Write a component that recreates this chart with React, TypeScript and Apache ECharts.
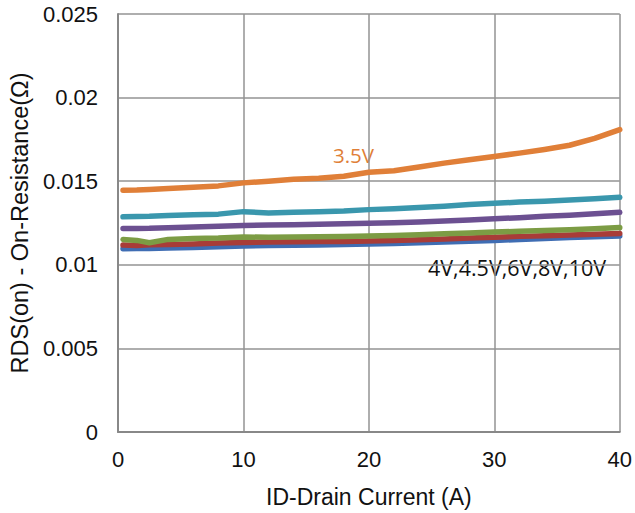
import React, { useEffect, useRef } from "react";
import * as echarts from "echarts";

const X = [0.4, 1.5, 2.5, 4, 6, 8, 10, 12, 14, 16, 18, 20, 22, 24, 26, 28, 30, 32, 34, 36, 38, 40];

const V35 = [0.01446, 0.01447, 0.01450, 0.01456, 0.01464, 0.01472, 0.01490, 0.01500, 0.01512, 0.01518, 0.01530, 0.01553, 0.01562, 0.01585, 0.01608, 0.01628, 0.01648, 0.01668, 0.01690, 0.01715, 0.01756, 0.01808];
const V4 = [0.01287, 0.01289, 0.01290, 0.01295, 0.01300, 0.01303, 0.01318, 0.01310, 0.01315, 0.01318, 0.01322, 0.01330, 0.01335, 0.01342, 0.01350, 0.01360, 0.01368, 0.01375, 0.01380, 0.01388, 0.01395, 0.01404];
const V45 = [0.01217, 0.01217, 0.01218, 0.01222, 0.01226, 0.01230, 0.01235, 0.01238, 0.01240, 0.01243, 0.01245, 0.01248, 0.01252, 0.01256, 0.01262, 0.01268, 0.01275, 0.01282, 0.01290, 0.01297, 0.01305, 0.01314];
const V6 = [0.01152, 0.01146, 0.01132, 0.01152, 0.01158, 0.01160, 0.01166, 0.01165, 0.01167, 0.01168, 0.01170, 0.01172, 0.01175, 0.01180, 0.01185, 0.01190, 0.01196, 0.01200, 0.01205, 0.01210, 0.01216, 0.01223];
const V8 = [0.01118, 0.01115, 0.01120, 0.01122, 0.01125, 0.01130, 0.01134, 0.01136, 0.01138, 0.01139, 0.01140, 0.01142, 0.01146, 0.01150, 0.01155, 0.01160, 0.01165, 0.01170, 0.01174, 0.01178, 0.01182, 0.01187];
const V10 = [0.01096, 0.01098, 0.01097, 0.01100, 0.01104, 0.01108, 0.01113, 0.01115, 0.01117, 0.01119, 0.01122, 0.01125, 0.01128, 0.01132, 0.01137, 0.01141, 0.01146, 0.01151, 0.01157, 0.01163, 0.01168, 0.01172];

const SERIES = [
  { name: "10V", data: V10, color: "#3f6db3" },
  { name: "8V", data: V8, color: "#a83c38" },
  { name: "6V", data: V6, color: "#7c9c44" },
  { name: "4.5V", data: V45, color: "#6c5091" },
  { name: "4V", data: V4, color: "#3a97ad" },
  { name: "3.5V", data: V35, color: "#e07f38" },
];

const FONT = "'Liberation Sans', Arial, sans-serif";

export default function App() {
  const ref = useRef<HTMLDivElement>(null);
  useEffect(() => {
    if (!ref.current) return;
    const chart = echarts.init(ref.current, null, { renderer: "svg" });
    chart.setOption({
      animation: false,
      backgroundColor: "#ffffff",
      grid: { left: 117, right: 13, top: 14, bottom: 80, containLabel: false },
      xAxis: {
        type: "value",
        min: 0,
        max: 40,
        interval: 10,
        name: "ID-Drain Current (A)",
        nameLocation: "middle",
        nameGap: 53,
        nameTextStyle: { fontSize: 23, color: "#111", fontFamily: FONT },
        axisLine: { show: true, lineStyle: { color: "#888", width: 2 } },
        axisTick: { show: false },
        axisLabel: { fontSize: 22, color: "#111", fontFamily: FONT, margin: 16 },
        splitLine: { show: true, lineStyle: { color: "#939393", width: 1.5 } },
      },
      yAxis: {
        type: "value",
        min: 0,
        max: 0.025,
        interval: 0.005,
        name: "RDS(on) - On-Resistance(Ω)",
        nameLocation: "middle",
        nameRotate: 90,
        nameGap: 86,
        nameTextStyle: { fontSize: 23.5, color: "#111", fontFamily: FONT },
        axisLine: { show: true, lineStyle: { color: "#888", width: 2 } },
        axisTick: { show: false },
        axisLabel: {
          fontSize: 22,
          color: "#111",
          fontFamily: FONT,
          margin: 20,
          formatter: (v: number) => String(parseFloat(v.toFixed(4))),
        },
        splitLine: { show: true, lineStyle: { color: "#939393", width: 1.5 } },
      },
      series: SERIES.map((s) => ({
        name: s.name,
        type: "line",
        showSymbol: false,
        symbol: "none",
        data: X.map((x, i) => [x, s.data[i]]),
        lineStyle: { color: s.color, width: 5.5, join: "round", cap: "round" },
        itemStyle: { color: s.color },
      })),
      graphic: [
        {
          type: "text",
          left: 333,
          top: 144,
          style: { text: "3.5V", fontSize: 20.5, fill: "#e07f38", fontFamily: "'Open Sans', sans-serif" },
        },
        {
          type: "text",
          left: 428,
          top: 256,
          style: { text: "4V,4.5V,6V,8V,10V", fontSize: 21.5, fill: "#111", fontFamily: "'Open Sans', sans-serif" },
        },
      ],
    });
    return () => chart.dispose();
  }, []);
  return <div ref={ref} style={{ position: "fixed", left: 0, top: 0, width: 635, height: 513 }} />;
}
